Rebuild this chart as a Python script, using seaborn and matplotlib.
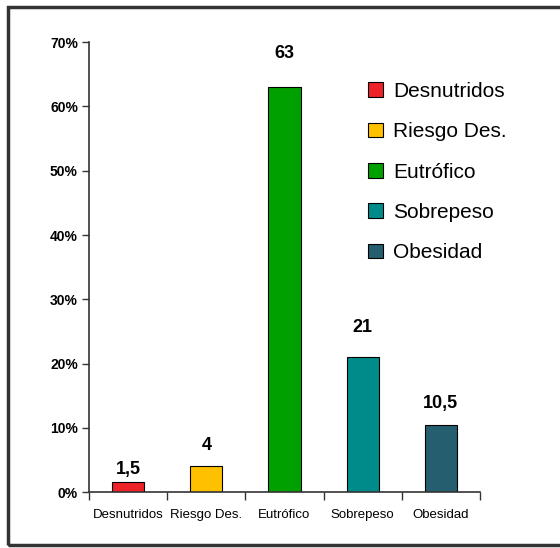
import matplotlib
matplotlib.use("Agg")
import matplotlib.pyplot as plt
import seaborn as sns
import pandas as pd
from matplotlib.patches import Rectangle
from matplotlib.ticker import FuncFormatter, FixedLocator

categories = ["Desnutridos", "Riesgo Des.", "Eutrófico", "Sobrepeso", "Obesidad"]
values = [1.5, 4, 63, 21, 10.5]
value_labels = ["1,5", "4", "63", "21", "10,5"]
colors = ["#EE2229", "#FFC000", "#00A000", "#008B8B", "#255F6F"]
yticks = [0, 10, 20, 30, 40, 50, 60, 70]

sns.set_style("white")
plt.rcParams["font.family"] = ["Liberation Sans", "DejaVu Sans"]
plt.rcParams["text.color"] = "black"
plt.rcParams["xtick.color"] = "black"
plt.rcParams["ytick.color"] = "black"

df = pd.DataFrame({"cat": categories, "val": values})

fig = plt.figure(figsize=(5.6, 5.48), dpi=100)
ax = fig.add_axes([0.159, 0.102, 0.698, 0.821])

sns.barplot(data=df, x="cat", y="val", hue="cat", palette=colors,
            width=0.41, edgecolor="black", linewidth=0.8, legend=True, ax=ax,
            order=categories, hue_order=categories, saturation=1)

ax.set_ylim(0, 70)
ax.set_xlim(-0.5, 4.5)
ax.set_yticks(yticks)
ax.yaxis.set_major_formatter(FuncFormatter(lambda v, p: f"{int(v)}%"))
for t in ax.get_yticklabels():
    t.set_fontweight("bold")
    t.set_fontsize(10)
ax.tick_params(axis="y", direction="out", length=5, width=1, color="#333333",
               left=True, pad=3)
ax.tick_params(axis="x", which="major", length=0, pad=12, labelsize=9.5)
ax.xaxis.set_minor_locator(FixedLocator([-0.5, 0.5, 1.5, 2.5, 3.5, 4.5]))
ax.tick_params(axis="x", which="minor", direction="out", length=6, width=1,
               color="#333333", bottom=True)
ax.set_xlabel("")
ax.set_ylabel("")
for s in ["top", "right"]:
    ax.spines[s].set_visible(False)
for s in ["left", "bottom"]:
    ax.spines[s].set_color("#333333")
    ax.spines[s].set_linewidth(1.2)

pads = [3, 9, 18, 15, 9]
bars = [c[0] for c in ax.containers]
for rect, lab, pad in zip(bars, value_labels, pads):
    ax.annotate(lab, (rect.get_x() + rect.get_width() / 2, rect.get_height()),
                xytext=(0, pad), textcoords="offset points", ha="center",
                va="bottom", fontsize=13, fontweight="bold", color="black")

leg = ax.get_legend()
handles = leg.legend_handles
leg.remove()
fig.legend(handles, categories, loc="upper left",
           bbox_to_anchor=(0.657, 0.851), frameon=False, fontsize=15,
           handlelength=0.7, handleheight=0.7, handletextpad=0.5,
           labelspacing=1.03, borderaxespad=0, borderpad=0)

fig.patches.append(Rectangle((0.014, 0.006), 1.2, 0.982, transform=fig.transFigure,
                             fill=False, edgecolor="#333333", linewidth=2.5,
                             clip_on=False))

fig.savefig("out.png", dpi=100)
